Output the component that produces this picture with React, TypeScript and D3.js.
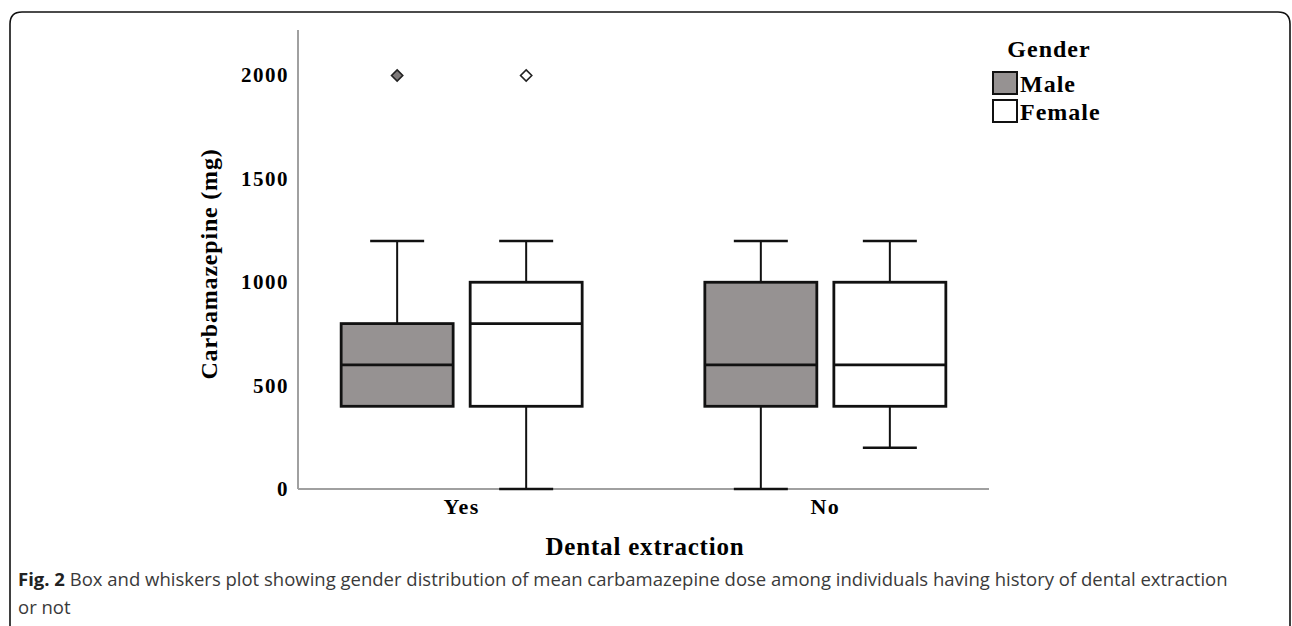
import { useEffect, useRef } from "react";
import * as d3 from "d3";

// data
const groups = ["Yes", "No"];
const genders = ["Male", "Female"];
const q1 = [
  [400, 400],
  [400, 400],
];
const medians = [
  [600, 800],
  [600, 600],
];
const q3 = [
  [800, 1000],
  [1000, 1000],
];
const whiskerLow = [
  [400, 0],
  [0, 200],
];
const whiskerHigh = [
  [1200, 1200],
  [1200, 1200],
];
const outliers = [
  [[2000], [2000]],
  [[], []],
];
const yTicks = [0, 500, 1000, 1500, 2000];
const genderFill = ["#969292", "#ffffff"];

const W = 1292;
const H = 626;
const serif = "'Liberation Serif', 'Times New Roman', serif";

export default function App() {
  const svgRef = useRef<SVGSVGElement>(null);

  useEffect(() => {
    document.body.style.margin = "0";
    if (!svgRef.current) return;
    const svg = d3.select(svgRef.current);
    svg.selectAll("*").remove();

    const left = 298;
    const right = 989;
    const bottom = 489;
    const top = 30;

    // frame
    svg
      .append("path")
      .attr("d", `M10,${H + 5} L10,24 Q10,12 22,12 L1278,12 Q1290,12 1290,24 L1290,${H + 5}`)
      .attr("fill", "none")
      .attr("stroke", "#111")
      .attr("stroke-width", 1.6);

    const x = d3.scalePoint<string>().domain(groups).range([left, right]).padding(0.45);
    const inner = d3
      .scaleBand<string>()
      .domain(genders)
      .range([-120.5, 120.5])
      .paddingInner(0.132)
      .paddingOuter(0);
    const y = d3.scaleLinear().domain([0, 2220]).range([bottom, top]);

    // axes
    svg
      .append("line")
      .attr("x1", left)
      .attr("x2", left)
      .attr("y1", top)
      .attr("y2", bottom)
      .attr("stroke", "#a0a0a0")
      .attr("stroke-width", 2);
    svg
      .append("line")
      .attr("x1", left)
      .attr("x2", right)
      .attr("y1", bottom)
      .attr("y2", bottom)
      .attr("stroke", "#a0a0a0")
      .attr("stroke-width", 2);

    svg
      .append("g")
      .selectAll("text")
      .data(yTicks)
      .join("text")
      .attr("x", 289)
      .attr("y", (d) => y(d) + 7)
      .attr("text-anchor", "end")
      .attr("font-family", serif)
      .attr("font-weight", "bold")
      .attr("font-size", 21)
      .attr("letter-spacing", 1.5)
      .text((d) => d);

    svg
      .append("g")
      .selectAll("text")
      .data(groups)
      .join("text")
      .attr("x", (d) => x(d)!)
      .attr("y", 514)
      .attr("text-anchor", "middle")
      .attr("font-family", serif)
      .attr("font-weight", "bold")
      .attr("font-size", 22)
      .attr("letter-spacing", 1.5)
      .text((d) => d);

    svg
      .append("text")
      .attr("transform", `translate(217,264) rotate(-90)`)
      .attr("text-anchor", "middle")
      .attr("font-family", serif)
      .attr("font-weight", "bold")
      .attr("font-size", 24)
      .attr("letter-spacing", 0.8)
      .text("Carbamazepine (mg)");

    svg
      .append("text")
      .attr("x", 645)
      .attr("y", 555)
      .attr("text-anchor", "middle")
      .attr("font-family", serif)
      .attr("font-weight", "bold")
      .attr("font-size", 25)
      .attr("letter-spacing", 0.8)
      .text("Dental extraction");

    // boxes
    const bw = inner.bandwidth();
    const capW = 54;
    groups.forEach((g, gi) => {
      genders.forEach((s, si) => {
        const x0 = x(g)! + inner(s)!;
        const cx = x0 + bw / 2;
        const gEl = svg.append("g");
        // whiskers
        gEl
          .append("line")
          .attr("x1", cx)
          .attr("x2", cx)
          .attr("y1", y(whiskerHigh[gi][si]))
          .attr("y2", y(q3[gi][si]))
          .attr("stroke", "#111")
          .attr("stroke-width", 2);
        gEl
          .append("line")
          .attr("x1", cx)
          .attr("x2", cx)
          .attr("y1", y(q1[gi][si]))
          .attr("y2", y(whiskerLow[gi][si]))
          .attr("stroke", "#111")
          .attr("stroke-width", 2);
        [whiskerHigh[gi][si], whiskerLow[gi][si]].forEach((v) => {
          if (v === q1[gi][si]) return;
          gEl
            .append("line")
            .attr("x1", cx - capW / 2)
            .attr("x2", cx + capW / 2)
            .attr("y1", y(v))
            .attr("y2", y(v))
            .attr("stroke", "#111")
            .attr("stroke-width", 2.5);
        });
        gEl
          .append("rect")
          .attr("x", x0)
          .attr("width", bw)
          .attr("y", y(q3[gi][si]))
          .attr("height", y(q1[gi][si]) - y(q3[gi][si]))
          .attr("fill", genderFill[si])
          .attr("stroke", "#111")
          .attr("stroke-width", 2.8);
        gEl
          .append("line")
          .attr("x1", x0)
          .attr("x2", x0 + bw)
          .attr("y1", y(medians[gi][si]))
          .attr("y2", y(medians[gi][si]))
          .attr("stroke", "#111")
          .attr("stroke-width", 2.8);
        outliers[gi][si].forEach((v) => {
          gEl
            .append("path")
            .attr("d", d3.symbol(d3.symbolDiamond2, 80)())
            .attr("transform", `translate(${cx},${y(v)})`)
            .attr("fill", genderFill[si] === "#ffffff" ? "#ffffff" : "#7e7a7a")
            .attr("stroke", "#222")
            .attr("stroke-width", 1.6);
        });
      });
    });

    // legend
    svg
      .append("text")
      .attr("x", 1049)
      .attr("y", 57)
      .attr("text-anchor", "middle")
      .attr("font-family", serif)
      .attr("font-weight", "bold")
      .attr("font-size", 24)
      .attr("letter-spacing", 1)
      .text("Gender");
    const legY = d3.scalePoint<string>().domain(genders).range([72, 100]);
    genders.forEach((s, si) => {
      svg
        .append("rect")
        .attr("x", 993)
        .attr("y", legY(s)!)
        .attr("width", 24)
        .attr("height", 22)
        .attr("fill", genderFill[si])
        .attr("stroke", "#111")
        .attr("stroke-width", 2);
      svg
        .append("text")
        .attr("x", 1020)
        .attr("y", legY(s)! + 20)
        .attr("font-family", serif)
        .attr("font-weight", "bold")
        .attr("font-size", 24)
        .attr("letter-spacing", 1)
        .text(s);
    });

    // caption
    const cap = svg
      .append("text")
      .attr("x", 18)
      .attr("y", 586)
      .attr("font-family", "'Open Sans', 'Noto Sans', sans-serif")
      .attr("font-size", 18.5)
      .attr("fill", "#3a3a3a");
    cap.append("tspan").attr("font-weight", "bold").attr("fill", "#222").text("Fig. 2");
    cap
      .append("tspan")
      .text(
        " Box and whiskers plot showing gender distribution of mean carbamazepine dose among individuals having history of dental extraction"
      );
    svg
      .append("text")
      .attr("x", 18)
      .attr("y", 614)
      .attr("font-family", "'Open Sans', 'Noto Sans', sans-serif")
      .attr("font-size", 18.5)
      .attr("fill", "#3a3a3a")
      .text("or not");
  }, []);

  return <svg ref={svgRef} width={W} height={H} style={{ display: "block" }} />;
}
